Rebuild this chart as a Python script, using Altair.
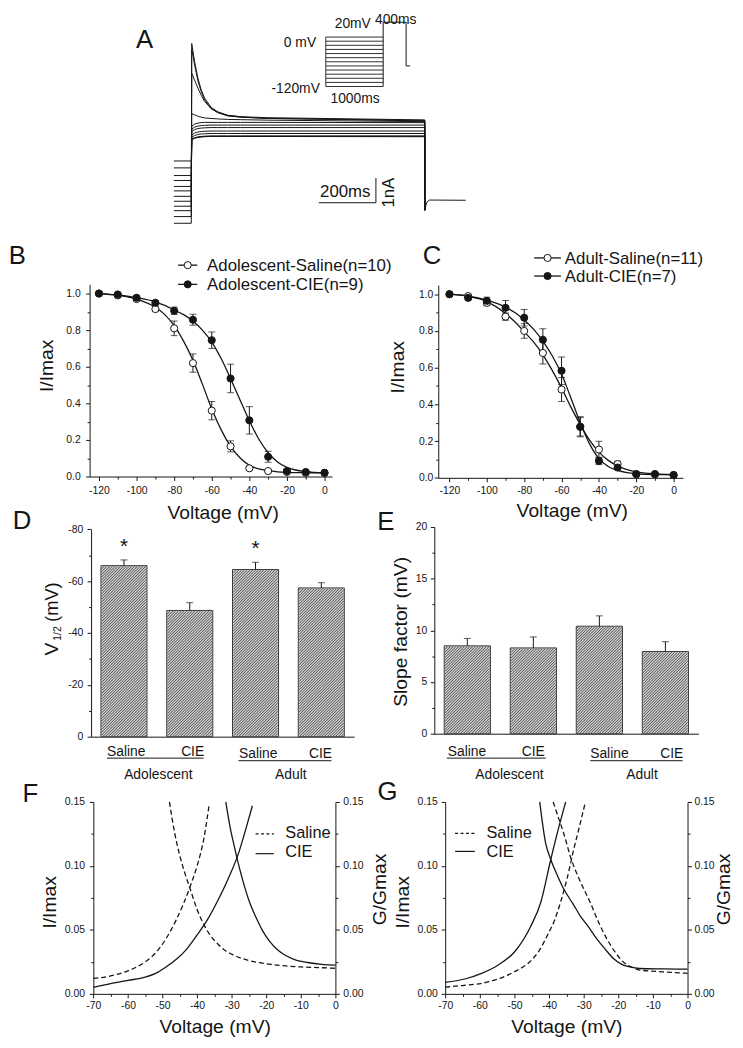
import math
import altair as alt
import pandas as pd

W, H = 735, 1034          # drawing area (page minus the 8px body margin)
M = 8                     # page margin
FONT = "Liberation Sans"
INK = "#151515"
BAR_BG = "#cdcdcd"
HATCH = "#444444"

# ======================= DATA =======================
# ---- Panel A: current traces (time ms, current nA)
prepulse_t_ms = [-61.0, 0.0]
prepulse_nA = [-0.93, -0.66, -0.42, -0.24, -0.04, 0.16, 0.38, 0.56, 0.80, 1.00, 1.31, 1.59]
test_t_ms = [1.5, 11.8, 23.2, 34.7, 46.4, 69.3, 92.6, 127.2, 173.3, 265.9, 818.0]
test_nA = [
    [6.34, 5.60, 4.94, 4.47, 4.14, 3.76, 3.58, 3.44, 3.38, 3.34, 3.25],
    [6.11, 5.47, 4.83, 4.40, 4.07, 3.71, 3.55, 3.41, 3.36, 3.31, 3.23],
    [5.14, 4.85, 4.54, 4.25, 4.00, 3.71, 3.55, 3.43, 3.37, 3.31, 3.21],
    [3.51, 3.45, 3.40, 3.36, 3.33, 3.31, 3.29, 3.27, 3.26, 3.24, 3.18],
    [3.00, 3.08, 3.12, 3.14, 3.15, 3.15, 3.15, 3.15, 3.15, 3.15, 3.14],
    [2.88, 2.96, 3.00, 3.02, 3.03, 3.04, 3.04, 3.04, 3.04, 3.04, 3.04],
    [2.78, 2.86, 2.90, 2.92, 2.93, 2.94, 2.94, 2.94, 2.94, 2.94, 2.94],
    [2.64, 2.72, 2.76, 2.78, 2.79, 2.80, 2.80, 2.80, 2.80, 2.80, 2.80],
    [2.54, 2.62, 2.66, 2.68, 2.69, 2.70, 2.70, 2.70, 2.70, 2.70, 2.70],
    [2.46, 2.53, 2.56, 2.58, 2.59, 2.60, 2.60, 2.60, 2.60, 2.60, 2.60],
    [2.45, 2.52, 2.55, 2.57, 2.58, 2.59, 2.59, 2.59, 2.59, 2.59, 2.59],
    [2.44, 2.51, 2.54, 2.56, 2.57, 2.58, 2.58, 2.58, 2.58, 2.58, 2.57],
]
tail_t_ms = [818.0, 822.0, 826.3, 834.0, 855.0, 961.5]
tail_nA = [-0.40, -0.21, -0.064, 0.008, 0.008, 0.0]
scalebar_t_ms = [447.0, 647.0]
scalebar_nA = [-0.1, 0.9]

# ---- Panel A inset: voltage protocol (ms, mV)
protocol_levels_mV = [-120, -110, -100, -90, -80, -70, -60, -50, -40, -30, -20, -10, 0]
protocol_step_ms = [0, 1000]
protocol_test_t_ms = [1000, 1000, 1400, 1400, 1470]
protocol_test_mV = [-120, 36, 36, -70, -70]

# ---- Panels B, C: steady-state inactivation
voltage_mV = [-120, -110, -100, -90, -80, -70, -60, -50, -40, -30, -20, -10, 0]
B_saline = [1.0, 0.99, 0.97, 0.915, 0.81, 0.62, 0.36, 0.165, 0.045, 0.03, 0.025, 0.02, 0.02]
B_saline_err = [0, 0.01, 0.01, 0.012, 0.04, 0.05, 0.05, 0.03, 0.01, 0.005, 0, 0, 0]
B_cie = [1.0, 0.995, 0.977, 0.95, 0.906, 0.857, 0.745, 0.536, 0.307, 0.108, 0.03, 0.025, 0.02]
B_cie_err = [0, 0.008, 0.01, 0.012, 0.02, 0.03, 0.045, 0.078, 0.075, 0.03, 0.01, 0.005, 0]
C_saline = [1.0, 0.99, 0.953, 0.878, 0.80, 0.68, 0.481, 0.278, 0.154, 0.075, 0.02, 0.02, 0.015]
C_saline_err = [0, 0.01, 0.015, 0.02, 0.04, 0.06, 0.065, 0.05, 0.045, 0.015, 0.005, 0, 0]
C_cie = [1.0, 0.98, 0.964, 0.926, 0.872, 0.752, 0.583, 0.278, 0.092, 0.056, 0.02, 0.02, 0.015]
C_cie_err = [0, 0.01, 0.02, 0.04, 0.045, 0.06, 0.075, 0.055, 0.02, 0.01, 0.005, 0, 0]

fit_V = [-120, -110, -100, -90, -85, -80, -75, -70, -65, -60, -55, -50, -45, -40, -35, -30, -25, -20, -10, 0]
B_saline_fit = [1.0, 0.99, 0.97, 0.925, 0.885, 0.825, 0.74, 0.635, 0.505, 0.37, 0.255, 0.165, 0.103, 0.062, 0.042, 0.032, 0.026, 0.023, 0.021, 0.02]
B_cie_fit = [1.0, 0.993, 0.978, 0.955, 0.935, 0.91, 0.885, 0.85, 0.80, 0.735, 0.645, 0.535, 0.42, 0.305, 0.205, 0.13, 0.08, 0.05, 0.027, 0.021]
C_saline_fit = [1.0, 0.988, 0.96, 0.895, 0.85, 0.795, 0.74, 0.67, 0.585, 0.49, 0.385, 0.29, 0.205, 0.14, 0.095, 0.065, 0.045, 0.033, 0.022, 0.018]
C_cie_fit = [1.0, 0.99, 0.968, 0.93, 0.90, 0.86, 0.81, 0.745, 0.665, 0.565, 0.435, 0.30, 0.185, 0.105, 0.062, 0.04, 0.028, 0.022, 0.018, 0.017]

legend_B = ["Adolescent-Saline(n=10)", "Adolescent-CIE(n=9)"]
legend_C = ["Adult-Saline(n=11)", "Adult-CIE(n=7)"]

# ---- Panels D, E: bar charts
bar_groups = ["Adolescent", "Adolescent", "Adult", "Adult"]
bar_treatments = ["Saline", "CIE", "Saline", "CIE"]
D_v_half = [-66.0, -48.7, -64.5, -57.4]
D_err = [2.2, 3.0, 2.8, 2.0]
E_slope = [8.5, 8.3, 10.4, 7.95]
E_err = [0.72, 1.06, 1.0, 0.95]
D_star = [True, False, True, False]

# ---- Panels F, G: window currents
F_sal_inact_V = [-48.0, -46.5, -45.0, -43.5, -42.0, -40.0, -38.0, -36.0, -34.0, -32.0, -30.0, -25.0, -20.0, -15.0, -10.0, -5.0, 0.0]
F_sal_inact = [0.150, 0.126, 0.108, 0.094, 0.082, 0.066, 0.054, 0.045, 0.039, 0.034, 0.031, 0.026, 0.0235, 0.022, 0.021, 0.0205, 0.020]
F_sal_act_V = [-70, -65, -60, -55, -52, -49, -46, -44, -42, -40, -38, -36.5]
F_sal_act = [0.012, 0.014, 0.018, 0.025, 0.032, 0.043, 0.058, 0.070, 0.084, 0.100, 0.122, 0.148]
F_cie_act_V = [-70, -65, -60, -55, -52, -49, -46, -43, -40, -37, -34, -31, -28, -26, -24]
F_cie_act = [0.005, 0.008, 0.0105, 0.013, 0.016, 0.021, 0.027, 0.035, 0.046, 0.058, 0.073, 0.090, 0.110, 0.128, 0.147]
F_cie_inact_V = [-31.7, -30.5, -29.3, -28.0, -26.5, -25.0, -23.0, -21.0, -19.0, -17.0, -15.0, -12.0, -8.0, -4.0, 0.0]
F_cie_inact = [0.150, 0.131, 0.116, 0.101, 0.086, 0.073, 0.060, 0.049, 0.041, 0.035, 0.031, 0.027, 0.0245, 0.023, 0.0224]

G_cie_act_V = [-70, -64.3, -59.5, -54.8, -50, -45.2, -42.4, -39.5, -37.5, -35.2]
G_cie_act = [0.009, 0.0116, 0.016, 0.0224, 0.0327, 0.0533, 0.0714, 0.105, 0.127, 0.150]
G_cie_inact_V = [-42.7, -41.0, -39.5, -37.5, -35.7, -33.0, -31.0, -28.5, -26.2, -23.8, -21.4, -19.0, -16.7, -13.8, -7.0, 0.0]
G_cie_inact = [0.150, 0.118, 0.105, 0.092, 0.0817, 0.070, 0.061, 0.052, 0.043, 0.035, 0.0276, 0.023, 0.021, 0.0198, 0.0195, 0.0193]
G_sal_act_V = [-70, -65, -59.5, -54.8, -50, -45.2, -42.8, -40.5, -38.5, -36.7, -34.8, -32.9, -31.2, -29.5]
G_sal_act = [0.0052, 0.0065, 0.0082, 0.0116, 0.0173, 0.026, 0.034, 0.0456, 0.057, 0.0714, 0.09, 0.1126, 0.131, 0.150]
G_sal_inact_V = [-38.8, -37.2, -35.7, -33.8, -31.0, -28.1, -25.7, -23.3, -21.0, -18.6, -16.2, -13.8, -7.0, 0.0]
G_sal_inact = [0.150, 0.137, 0.125, 0.107, 0.088, 0.0714, 0.056, 0.043, 0.033, 0.025, 0.021, 0.0186, 0.0172, 0.016]

# ======================= HELPERS =======================
ONE = pd.DataFrame({"k": [0]})


def lin(d0, d1, p0, p1):
    return alt.Scale(domain=[d0, d1], range=[p0 - M, p1 - M], nice=False, zero=False)


def txt(s, x, y, size, align="left", baseline="middle", angle=None):
    kw = dict(text=s, align=align, baseline=baseline, fontSize=size, font=FONT, color=INK)
    if angle is not None:
        kw["angle"] = angle
    return alt.Chart(ONE).mark_text(**kw).encode(x=alt.value(x - M), y=alt.value(y - M))


def seg(x1, y1, x2, y2, width=1.0, dash=None):
    kw = dict(color=INK, strokeWidth=width)
    if dash is not None:
        kw["strokeDash"] = dash
    return alt.Chart(ONE).mark_rule(**kw).encode(
        x=alt.value(x1 - M), y=alt.value(y1 - M), x2=alt.value(x2 - M), y2=alt.value(y2 - M))


def dot(x, y, filled):
    return alt.Chart(ONE).mark_circle(size=52, opacity=1, fill=INK if filled else "white",
                                      stroke=INK, strokeWidth=1).encode(
        x=alt.value(x - M), y=alt.value(y - M))


def tsize(test):
    return {"condition": {"test": test, "value": 4}, "value": 2.5}


def left_axis(xpage, values, lexpr, test, pad, title=None, tx=None, ty=None):
    kw = dict(orient="left", offset=-(xpage - M), values=values, labelExpr=lexpr,
              tickSize=tsize(test), labelPadding=pad)
    if title:
        kw.update(title=title, titleX=tx - xpage, titleY=ty - M, titleAngle=270,
                  titleBaseline="alphabetic", titleAlign="center")
    else:
        kw["title"] = None
    return alt.Axis(**kw)


def right_axis(xpage, values, lexpr, test, pad, title, tx, ty):
    return alt.Axis(orient="right", offset=(xpage - M) - W, values=values, labelExpr=lexpr,
                    tickSize=tsize(test), labelPadding=pad, title=title, titleX=tx - xpage,
                    titleY=ty - M, titleAngle=270, titleBaseline="alphabetic", titleAlign="center")


def bottom_axis(ypage, values, lexpr, test, pad, title, tx, ty):
    return alt.Axis(orient="bottom", offset=(ypage - M) - H, values=values, labelExpr=lexpr,
                    tickSize=tsize(test), labelPadding=pad, title=title, titleX=tx - M,
                    titleY=ty - ypage, titleBaseline="alphabetic", titleAlign="center")


layers = []

# ======================= PANEL A =======================
rows = []
for i, (pre, cur) in enumerate(zip(prepulse_nA, test_nA)):
    pts = [(t, pre) for t in prepulse_t_ms] + list(zip(test_t_ms, cur)) + [(tail_t_ms[0], tail_nA[0])]
    for k, (t, v) in enumerate(pts):
        rows.append({"trace": f"s{i}", "k": k, "t": t, "I": v})
for k, (t, v) in enumerate(zip(tail_t_ms, tail_nA)):
    rows.append({"trace": "tail", "k": k, "t": t, "I": v})
traces_df = pd.DataFrame(rows)

sAt = lin(-70, 980, 193.3 - 70 * 0.2885, 193.3 + 980 * 0.2885)
sAi = lin(-1.0, 6.5, 196.7 + 1.0 * 25, 196.7 - 6.5 * 25)
layers.append(alt.Chart(traces_df).mark_line(color=INK, strokeWidth=1).encode(
    x=alt.X("t:Q", scale=sAt, axis=None), y=alt.Y("I:Q", scale=sAi, axis=None),
    detail="trace:N", order="k:Q"))

sb_df = pd.DataFrame({"t": [scalebar_t_ms[0], scalebar_t_ms[1]],
                      "t2": [scalebar_t_ms[1], scalebar_t_ms[1]],
                      "I": [scalebar_nA[0], scalebar_nA[0]],
                      "I2": [scalebar_nA[0], scalebar_nA[1]]})
layers.append(alt.Chart(sb_df).mark_rule(color=INK, strokeWidth=1).encode(
    x=alt.X("t:Q", scale=sAt, axis=None), x2="t2:Q",
    y=alt.Y("I:Q", scale=sAi, axis=None), y2="I2:Q"))

sPt = lin(0, 1470, 329.3, 329.3 + 1470 * 0.058)
sPv = lin(-120, 36, 81.7, 16.7)
prot_rules = pd.DataFrame(
    [{"t": protocol_step_ms[0], "t2": protocol_step_ms[1], "v": lv, "v2": lv} for lv in protocol_levels_mV]
    + [{"t": protocol_step_ms[0], "t2": protocol_step_ms[0], "v": min(protocol_levels_mV), "v2": max(protocol_levels_mV)}])
layers.append(alt.Chart(prot_rules).mark_rule(color=INK, strokeWidth=0.9).encode(
    x=alt.X("t:Q", scale=sPt, axis=None), x2="t2:Q",
    y=alt.Y("v:Q", scale=sPv, axis=None), y2="v2:Q"))
prot_test = pd.DataFrame({"k": list(range(len(protocol_test_t_ms))), "t": protocol_test_t_ms, "v": protocol_test_mV})
layers.append(alt.Chart(prot_test).mark_line(color=INK, strokeWidth=1).encode(
    x=alt.X("t:Q", scale=sPt, axis=None), y=alt.Y("v:Q", scale=sPv, axis=None), order="k:Q"))

layers += [
    txt("0 mV", 319.5, 41.7, 14, align="right", baseline="alphabetic"),
    txt("-120mV", 323.3, 88, 14, align="right", baseline="alphabetic"),
    txt("20mV", 338.3, 23, 14, baseline="alphabetic"),
    txt("400ms", 379, 18.5, 14, baseline="alphabetic"),
    txt("1000ms", 334, 98.5, 14, baseline="alphabetic"),
    txt("200ms", 349, 193, 17, align="center", baseline="alphabetic"),
    txt("1nA", 398, 189, 17, align="center", baseline="alphabetic", angle=270),
]

# ======================= PANELS B, C =======================
XLAB20 = "datum.value % 20 === 0 ? '' + datum.value : ''"
T20 = "datum.value % 20 === 0"
YLAB02 = "round(datum.value * 10) % 2 === 0 ? format(datum.value, '.1f') : ''"
T02 = "round(datum.value * 10) % 2 === 0"
x_ticks_BC = list(range(-120, 1, 10))
y_ticks_BC = [0, 0.1, 0.2, 0.3, 0.4, 0.5, 0.6, 0.7, 0.8, 0.9, 1.0]


def inactivation_panel(sx, sy, xaxis, yaxis, fit_sal, fit_cie, sal, sal_err, cie, cie_err):
    out = []
    fits = pd.DataFrame({"V": fit_V * 2, "I": fit_sal + fit_cie,
                         "grp": ["saline"] * len(fit_V) + ["cie"] * len(fit_V)})
    out.append(alt.Chart(fits).mark_line(color=INK, strokeWidth=1.3, interpolate="monotone").encode(
        x=alt.X("V:Q", scale=sx, axis=xaxis), y=alt.Y("I:Q", scale=sy, axis=yaxis), detail="grp:N"))
    eb = []
    for vals, errs in ((sal, sal_err), (cie, cie_err)):
        for v, m, e in zip(voltage_mV, vals, errs):
            if e > 0:
                eb.append({"V": v, "lo": m - e, "hi": m + e})
    eb = pd.DataFrame(eb)
    out.append(alt.Chart(eb).mark_rule(color=INK, strokeWidth=1).encode(
        x=alt.X("V:Q", scale=sx, axis=None), y=alt.Y("lo:Q", scale=sy, axis=None), y2="hi:Q"))
    caps = pd.DataFrame({"V": list(eb["V"]) * 2, "y": list(eb["lo"]) + list(eb["hi"])})
    out.append(alt.Chart(caps).mark_tick(color=INK, orient="horizontal", size=7, thickness=1).encode(
        x=alt.X("V:Q", scale=sx, axis=None), y=alt.Y("y:Q", scale=sy, axis=None)))
    for vals, filled in ((sal, False), (cie, True)):
        d = pd.DataFrame({"V": voltage_mV, "I": vals})
        out.append(alt.Chart(d).mark_circle(size=52, opacity=1, fill=INK if filled else "white",
                                            stroke=INK, strokeWidth=1).encode(
            x=alt.X("V:Q", scale=sx, axis=None), y=alt.Y("I:Q", scale=sy, axis=None)))
    return out


sBx = lin(-125, 4, 90.5, 335.6)
sBy = lin(0, 1.05, 476, 281.75)
layers += inactivation_panel(
    sBx, sBy,
    bottom_axis(476, x_ticks_BC, XLAB20, T20, 5.0, "Voltage (mV)", 225, 518),
    left_axis(90.5, y_ticks_BC, YLAB02, T02, 5.5, "I/Imax", 52.5, 363.5),
    B_saline_fit, B_cie_fit, B_saline, B_saline_err, B_cie, B_cie_err)

sCx = lin(-126, 5, 443, 690.4)
sCy = lin(0, 1.05, 477.3, 282.4)
layers += inactivation_panel(
    sCx, sCy,
    bottom_axis(477.3, x_ticks_BC, XLAB20, T20, 4.0, "Voltage (mV)", 578, 516),
    left_axis(443, y_ticks_BC, YLAB02, T02, 1.5, "I/Imax", 408, 365),
    C_saline_fit, C_cie_fit, C_saline, C_saline_err, C_cie, C_cie_err)

# legends B, C
layers += [
    seg(180, 262.3, 199.3, 262.3, 1.3), dot(189.7, 262.3, False),
    txt(legend_B[0], 209.3, 263.3, 17),
    seg(180, 281.7, 199.3, 281.7, 1.3), dot(189.7, 281.7, True),
    txt(legend_B[1], 209.3, 282.7, 17),
    seg(540, 255, 567, 255, 1.3), dot(553.5, 255, False),
    txt(legend_C[0], 571, 256, 17),
    seg(540, 273.3, 567, 273.3, 1.3), dot(553.5, 273.3, True),
    txt(legend_C[1], 571, 274.3, 17),
]

# ======================= PANELS D, E =======================
cats = [f"{g}-{t}" for g, t in zip(bar_groups, bar_treatments)]
PAD_IN, PAD_OUT = 0.3, 0.15
HATCH_PERIOD = 2.8


def hatch_df(rects, period=HATCH_PERIOD, inset=0.7):
    """Diagonal //// fill lines clipped to each bar rectangle (page px)."""
    out = []
    for (xa, xb, yt, yb) in rects:
        xa, xb, yt, yb = xa + inset, xb - inset, yt + inset, yb - inset
        c = math.ceil((xa + yt) / period) * period
        while c < xb + yb:
            X1 = max(xa, c - yb)
            X2 = min(xb, c - yt)
            if X2 - X1 > 0.3:
                out.append({"x": X1 - M, "y": c - X1 - M, "x2": X2 - M, "y2": c - X2 - M})
            c += period
    return pd.DataFrame(out)


def bar_panel(x0, x1, yfun, sy, values, errs, ypage_axis, yaxis, sign):
    out = []
    sx = alt.Scale(domain=cats, range=[x0 - M, x1 - M], paddingInner=PAD_IN, paddingOuter=PAD_OUT)
    step = (x1 - x0) / (len(cats) - PAD_IN + 2 * PAD_OUT)
    bw = step * (1 - PAD_IN)
    df = pd.DataFrame({"cat": cats, "v": values, "base": [0] * len(cats)})
    df["tip"] = [v + sign * e for v, e in zip(values, errs)]
    xaxis = alt.Axis(orient="bottom", offset=(ypage_axis - M) - H, ticks=False, labels=False,
                     title=None)
    out.append(alt.Chart(df).mark_bar(fill=BAR_BG, stroke="#3a3a3a", strokeWidth=1).encode(
        x=alt.X("cat:N", scale=sx, axis=xaxis, sort=cats),
        y=alt.Y("v:Q", scale=sy, axis=yaxis), y2="base:Q"))
    rects = []
    for i, v in enumerate(values):
        xa = x0 + step * (PAD_OUT + i)
        ya, yb = yfun(v), yfun(0)
        rects.append((xa, xa + bw, min(ya, yb), max(ya, yb)))
    out.append(alt.Chart(hatch_df(rects)).mark_rule(color=HATCH, strokeWidth=0.9).encode(
        x=alt.X("x:Q", scale=None, axis=None), x2="x2:Q",
        y=alt.Y("y:Q", scale=None, axis=None), y2="y2:Q"))
    out.append(alt.Chart(df).mark_rule(color=INK, strokeWidth=1).encode(
        x=alt.X("cat:N", scale=sx, axis=None, sort=cats),
        y=alt.Y("v:Q", scale=sy, axis=None), y2="tip:Q"))
    out.append(alt.Chart(df).mark_tick(color=INK, orient="horizontal", size=7, thickness=1).encode(
        x=alt.X("cat:N", scale=sx, axis=None, sort=cats),
        y=alt.Y("tip:Q", scale=sy, axis=None)))
    return out, sx


D_top, D_bot = 529.4, 739.0
sDy = lin(-80, 0, D_top, D_bot)
D_layers, sDx = bar_panel(
    92, 358, lambda v: D_top + (v + 80) / 80 * (D_bot - D_top), sDy, D_v_half, D_err, 739,
    left_axis(92, list(range(-80, 1, 10)), "datum.value % 20 === 0 ? '' + datum.value : ''",
              "datum.value % 20 === 0", 4.4),
    -1)
layers += D_layers
star_df = pd.DataFrame({"cat": cats, "star": D_star})
star_df = star_df[star_df["star"]]
for j, ybase in enumerate([553.4, 555.7]):
    layers.append(alt.Chart(star_df.iloc[[j]]).mark_text(
        text="*", fontSize=21, font=FONT, color=INK, baseline="alphabetic", align="center").encode(
        x=alt.X("cat:N", scale=sDx, axis=None, sort=cats), y=alt.value(ybase - M)))

E_top, E_bot = 527.0, 736.0
sEy = lin(0, 20, E_bot, E_top)
E_layers, sEx = bar_panel(
    439, 706, lambda v: E_bot - v / 20 * (E_bot - E_top), sEy, E_slope, E_err, 736,
    left_axis(439, [0, 2.5, 5, 7.5, 10, 12.5, 15, 17.5, 20],
              "datum.value % 5 === 0 ? '' + datum.value : ''", "datum.value % 5 === 0", 3.7,
              "Slope factor (mV)", 411, 632.5),
    1)
layers += E_layers

# D y title: V with 1/2 subscript
layers += [
    txt("V", 58.5, 657, 19.5, baseline="alphabetic", angle=270),
    txt("1/2", 61.5, 642, 10.5, baseline="alphabetic", angle=270),
    txt("(mV)", 58.5, 623, 18.5, baseline="alphabetic", angle=270),
]

# category labels
layers += [
    txt(bar_treatments[0], 127.5, 758.5, 14, align="center", baseline="alphabetic"),
    txt(bar_treatments[1], 194.7, 758.5, 14, align="center", baseline="alphabetic"),
    txt(bar_treatments[2], 261, 761, 14, align="center", baseline="alphabetic"),
    txt(bar_treatments[3], 324, 761, 14, align="center", baseline="alphabetic"),
    seg(108, 760.7, 205.7, 760.7), seg(241, 763.3, 335, 763.3),
    txt(bar_groups[0], 160, 782, 14, align="center", baseline="alphabetic"),
    txt(bar_groups[2], 294, 782, 14, align="center", baseline="alphabetic"),
    txt(bar_treatments[0], 472, 758.5, 14, align="center", baseline="alphabetic"),
    txt(bar_treatments[1], 539, 758.5, 14, align="center", baseline="alphabetic"),
    txt(bar_treatments[2], 616, 761, 14, align="center", baseline="alphabetic"),
    txt(bar_treatments[3], 679, 761, 14, align="center", baseline="alphabetic"),
    seg(451.7, 760.7, 551.7, 760.7), seg(596.7, 763.3, 690, 763.3),
    txt(bar_groups[0], 515, 782, 14, align="center", baseline="alphabetic"),
    txt(bar_groups[2], 649, 782, 14, align="center", baseline="alphabetic"),
]

# ======================= PANELS F, G =======================
x_ticks_FG = list(range(-70, 1, 5))
y_ticks_FG = [0, 0.025, 0.05, 0.075, 0.1, 0.125, 0.15]
XLAB10 = "datum.value % 10 === 0 ? '' + datum.value : ''"
T10 = "datum.value % 10 === 0"
YLAB05 = "round(datum.value * 1000) % 50 === 0 ? format(datum.value, '.2f') : ''"
T05 = "round(datum.value * 1000) % 50 === 0"


def window_panel(sx, sy, xaxis, laxis, raxis, sal_in, cie_in, sal_act, cie_act):
    out = []
    specs = [
        (sal_in, [5, 3], xaxis, laxis),
        (cie_in, None, None, None),
        (sal_act, [5, 3], None, raxis),
        (cie_act, None, None, None),
    ]
    for (vv, ii), dash, xa, ya in specs:
        d = pd.DataFrame({"V": vv, "I": ii})
        kw = dict(color=INK, strokeWidth=1.3, interpolate="monotone")
        if dash is not None:
            kw["strokeDash"] = dash
        out.append(alt.Chart(d).mark_line(**kw).encode(
            x=alt.X("V:Q", scale=sx, axis=xa), y=alt.Y("I:Q", scale=sy, axis=ya)))
    return out


sFx = lin(-70, 0, 94.3, 339)
sFy = lin(0, 0.15, 999, 805)
layers += window_panel(
    sFx, sFy,
    bottom_axis(999, x_ticks_FG, XLAB10, T10, 2.5, "Voltage (mV)", 217, 1038),
    left_axis(94.3, y_ticks_FG, YLAB05, T05, 5.0, "I/Imax", 56, 906),
    right_axis(339, y_ticks_FG, YLAB05, T05, 3.5, "G/Gmax", 390, 893),
    (F_sal_inact_V, F_sal_inact), (F_cie_inact_V, F_cie_inact),
    (F_sal_act_V, F_sal_act), (F_cie_act_V, F_cie_act))

sGx = lin(-70, 0, 450, 695)
sGy = lin(0, 0.15, 999, 805)
layers += window_panel(
    sGx, sGy,
    bottom_axis(999, x_ticks_FG, XLAB10, T10, 2.5, "Voltage (mV)", 572.5, 1038),
    left_axis(450, y_ticks_FG, YLAB05, T05, 4.0, "I/Imax", 413, 906),
    right_axis(695, y_ticks_FG, YLAB05, T05, 2.5, "G/Gmax", 737.5, 893),
    (G_sal_inact_V, G_sal_inact), (G_cie_inact_V, G_cie_inact),
    (G_sal_act_V, G_sal_act), (G_cie_act_V, G_cie_act))

layers += [
    seg(258.3, 837.3, 276.7, 837.3, 1.2, [3, 2.5]), txt("Saline", 288.3, 836, 16.5),
    seg(258.3, 857.3, 276.7, 857.3, 1.2), txt("CIE", 288.3, 856, 16.5),
    seg(460, 836.7, 480, 836.7, 1.2, [3, 2.5]), txt("Saline", 491.7, 836, 16.5),
    seg(460, 855, 480, 855, 1.2), txt("CIE", 491.7, 856, 16.5),
]

# ======================= PANEL LETTERS =======================
for letter, x, y in [("A", 146, 33.3), ("B", 17.5, 251.7), ("C", 436.7, 251.7), ("D", 22.3, 519.3),
                     ("E", 390, 521), ("F", 30.7, 795.7), ("G", 391.7, 793.3)]:
    layers.append(txt(letter, x, y + 1.5, 26, align="center", baseline="middle"))

chart = (
    alt.layer(*layers)
    .resolve_scale(x="independent", y="independent")
    .properties(width=W, height=H, autosize=alt.AutoSizeParams(type="none"), padding=0,
                background="white")
    .configure_view(stroke=None)
    .configure_axis(domainColor=INK, tickColor=INK, labelColor=INK, titleColor=INK,
                    labelFont=FONT, titleFont=FONT, labelFontSize=10.5, titleFontSize=19.5,
                    titleFontWeight="normal", grid=False, labelFlush=False, labelOverlap=False,
                    domainWidth=1, tickWidth=1)
)

chart.save("out.html", embed_options={"renderer": "svg", "actions": False})
